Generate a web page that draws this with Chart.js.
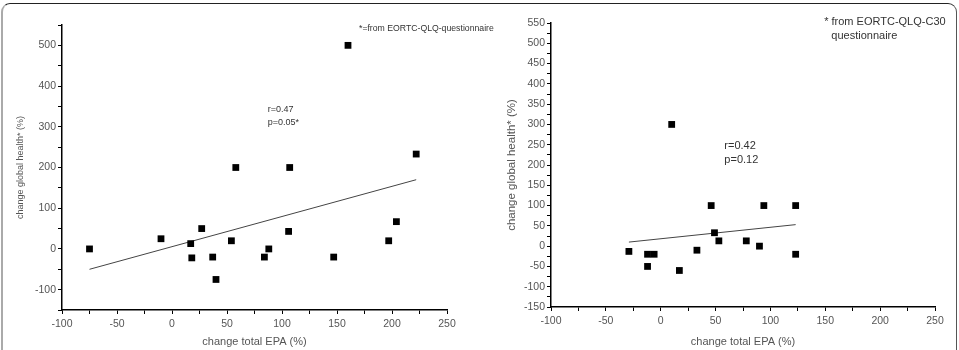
<!DOCTYPE html>
<html>
<head>
<meta charset="utf-8">
<script src="https://cdn.jsdelivr.net/npm/chart.js@4.4.1/dist/chart.umd.min.js"></script>
<style>
  html,body{margin:0;padding:0;background:#fff;}
  #wrap{position:relative;width:959px;height:350px;overflow:hidden;background:#fff;}
  #frame{position:absolute;left:1px;top:3px;width:956px;height:370px;border-top:1.5px solid #222;border-left:2px solid #aaa;border-right:1.5px solid #555;border-radius:9px 9px 0 0;box-sizing:border-box;}
  #c1{position:absolute;left:0;top:0;}
  #c2{position:absolute;left:480px;top:0;}
</style>
</head>
<body>
<div id="wrap">
  <div id="frame"></div>
  <canvas id="c1" width="510" height="350"></canvas>
  <canvas id="c2" width="479" height="350"></canvas>
</div>
<script>
// ---- Data: left panel ----
const leftX = [-75, -10, 17, 18, 27, 37, 40, 54, 58, 84, 88, 106, 107, 147, 160, 197, 204, 222];
const leftY = [0, 25, 13, -22, 50, -20, -75, 20, 200, -20, 0, 43, 200, -20, 500, 20, 67, 233];
const leftFitX = [-75, 222];
const leftFitY = [-50, 170];

// ---- Data: right panel ----
const rightX = [-29, -12, -6, -12, 17, 10, 33, 46, 49, 53, 78, 90, 94, 123, 123];
const rightY = [-13, -20, -20, -50, -60, 300, -10, 100, 33, 13, 13, 0, 100, 100, -20];
const rightFitX = [-29, 123];
const rightFitY = [10, 53];

// ---- Axis ticks ----
const xTickValues = [-100, -75, -50, -25, 0, 25, 50, 75, 100, 125, 150, 175, 200, 225, 250];
const xTickLabels = ['-100', '', '-50', '', '0', '', '50', '', '100', '', '150', '', '200', '', '250'];
const leftYTickValues = [-150, -100, -50, 0, 50, 100, 150, 200, 250, 300, 350, 400, 450, 500, 550];
const leftYTickLabels = ['', '-100', '', '0', '', '100', '', '200', '', '300', '', '400', '', '500', ''];
const rightYTickValues = [-150, -125, -100, -75, -50, -25, 0, 25, 50, 75, 100, 125, 150, 175, 200, 225, 250, 275, 300, 325, 350, 375, 400, 425, 450, 475, 500, 525, 550];
const rightYTickLabels = rightYTickValues.map(v => (v % 50 === 0 ? String(v) : ''));

const xTitle = 'change total EPA (%)';
const yTitle = 'change global health* (%)';

const leftNotes = [
  {text: 'r=0.47', x: 87, y: 343, size: 9},
  {text: 'p=0.05*', x: 87, y: 311, size: 9},
  {text: '*=from EORTC-QLQ-questionnaire', x: 170, y: 541, size: 8.7}
];
const rightNotes = [
  {text: 'r=0.42', x: 58, y: 246, size: 11},
  {text: 'p=0.12', x: 58, y: 213, size: 11},
  {text: '* from EORTC-QLQ-C30', x: 149, y: 553, size: 11},
  {text: 'questionnaire', x: 155.5, y: 519, size: 11}
];

const FONT = "'Liberation Sans', Arial, sans-serif";

const notesPlugin = {
  id: 'notes',
  afterDatasetsDraw(chart, args, opts) {
    const {ctx, scales} = chart;
    ctx.save();
    ctx.fillStyle = '#333';
    ctx.textAlign = 'left';
    ctx.textBaseline = 'middle';
    (opts.items || []).forEach(n => {
      ctx.font = n.size + 'px ' + FONT;
      ctx.fillText(n.text, scales.x.getPixelForValue(n.x), scales.y.getPixelForValue(n.y));
    });
    ctx.restore();
  }
};

function pts(xs, ys) { return xs.map((x, i) => ({x: x, y: ys[i]})); }

function makeChart(id, cfg) {
  return new Chart(document.getElementById(id), {
    type: 'scatter',
    data: {
      datasets: [
        {
          data: pts(cfg.px, cfg.py),
          pointStyle: 'rect',
          pointRadius: 4.8,
          pointHoverRadius: 4.8,
          backgroundColor: '#000',
          borderWidth: 0
        },
        {
          type: 'line',
          data: pts(cfg.fx, cfg.fy),
          borderColor: '#444',
          borderWidth: 1,
          pointRadius: 0,
          fill: false
        }
      ]
    },
    options: {
      responsive: false,
      animation: false,
      events: [],
      layout: {padding: {left: 0, top: cfg.top, right: cfg.right, bottom: 0}},
      plugins: {legend: {display: false}, tooltip: {enabled: false}, notes: {items: cfg.notes}},
      scales: {
        x: {
          type: 'linear', min: -100, max: 250,
          afterBuildTicks: s => { s.ticks = xTickValues.map(v => ({value: v})); },
          afterFit: s => { s.height = cfg.xh; },
          ticks: {
            autoSkip: false, maxRotation: 0, padding: 4, color: '#555',
            font: {family: FONT, size: 10.5},
            callback: (v) => xTickLabels[xTickValues.indexOf(v)]
          },
          grid: {drawOnChartArea: false, drawTicks: true, tickLength: 4, color: '#000', lineWidth: 1},
          border: {display: true, color: '#000', width: 1.5},
          title: {display: true, text: xTitle, color: '#555', font: {family: FONT, size: 11}, padding: {top: 0, bottom: 1}}
        },
        y: {
          type: 'linear', min: -150, max: 550,
          afterBuildTicks: s => { s.ticks = cfg.yv.map(v => ({value: v})); },
          afterFit: s => { s.width = cfg.yw; },
          ticks: {
            autoSkip: false, padding: 2, color: '#555',
            font: {family: FONT, size: 10.5},
            callback: (v) => cfg.yl[cfg.yv.indexOf(v)]
          },
          grid: {drawOnChartArea: false, drawTicks: true, tickLength: 4, color: '#000', lineWidth: 1},
          border: {display: true, color: '#000', width: 1.5},
          title: {display: true, text: yTitle, color: '#555', font: {family: FONT, size: cfg.yts}, padding: {top: cfg.ytp, bottom: 0}}
        }
      }
    },
    plugins: [notesPlugin]
  });
}

makeChart('c1', {px: leftX, py: leftY, fx: leftFitX, fy: leftFitY, yv: leftYTickValues, yl: leftYTickLabels,
  top: 25, right: 63, yw: 62, xh: 40, yts: 9, ytp: 15, notes: leftNotes});
makeChart('c2', {px: rightX, py: rightY, fx: rightFitX, fy: rightFitY, yv: rightYTickValues, yl: rightYTickLabels,
  top: 23, right: 24, yw: 71, xh: 43, yts: 11.5, ytp: 25, notes: rightNotes});
</script>
</body>
</html>
